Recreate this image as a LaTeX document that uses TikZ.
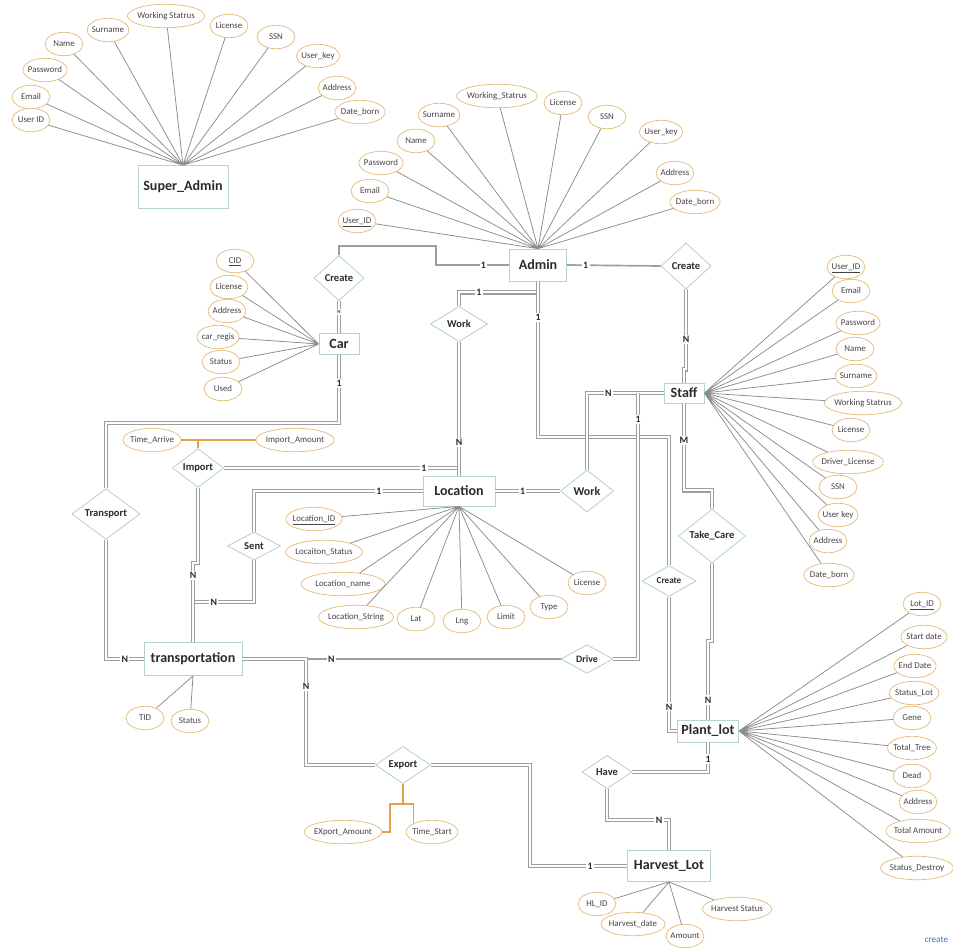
\documentclass[tikz,border=0pt]{standalone}
\usepackage{fontspec}
\setmainfont{Carlito}
\usetikzlibrary{shapes.geometric}

\definecolor{boxline}{HTML}{B7D2D2}
\definecolor{relline}{HTML}{A9CCCC}
\definecolor{attrline}{HTML}{E2BA78}
\definecolor{linkgray}{HTML}{9E9E9E}
\definecolor{raygray}{HTML}{8E8E8E}
\definecolor{attrorange}{HTML}{E3A24A}
\definecolor{txt}{HTML}{2B2B2B}
\definecolor{attrtxt}{HTML}{454545}
\definecolor{logoblue}{HTML}{3A78C2}

\begin{document}
\begin{tikzpicture}[
    x=0.025cm, y=-0.025cm,
    entity/.style={rectangle, draw=boxline, line width=0.5pt, fill=white, text=txt, inner sep=1pt, font=\fontsize{10}{12}\selectfont\bfseries},
    rel/.style={diamond, draw=relline, line width=0.5pt, fill=white, text=txt, inner sep=0pt, font=\fontsize{7.5}{9}\selectfont\bfseries},
    attr/.style={ellipse, draw=attrline, line width=0.5pt, fill=white, text=attrtxt, inner xsep=-1pt, inner ysep=3pt, minimum width=0.95cm, text height=4.5pt, text depth=1.3pt, font=\fontsize{6.3}{7}\selectfont},
    link/.style={draw=linkgray, line width=1pt, double=white, double distance=1.3pt},
    plain/.style={draw=linkgray, line width=1.2pt},
    ray/.style={draw=raygray, line width=0.55pt},
    attrlink/.style={draw=attrorange, line width=0.9pt},
    card/.style={fill=white, inner sep=1pt, text=txt, font=\fontsize{7}{8}\selectfont\bfseries}
]
\useasboundingbox (0,0) rectangle (953,949);

% Entidades
\node[entity, minimum width=2.25cm, minimum height=1.075cm] (sa) at (183,187) {Super\_Admin};
\node[entity, minimum width=1.43cm, minimum height=0.8cm] (admin) at (538,265) {Admin};
\node[entity, minimum width=1.0cm, minimum height=0.53cm] (car) at (339,344) {Car};
\node[entity, minimum width=1.0cm, minimum height=0.5cm] (staff) at (684,393) {Staff};
\node[entity, minimum width=1.8cm, minimum height=0.75cm] (loc) at (459,491) {Location};
\node[entity, minimum width=2.45cm, minimum height=0.83cm] (trans) at (193,659) {transportation};
\node[entity, minimum width=1.53cm, minimum height=0.55cm] (plant) at (708,731) {Plant\_lot};
\node[entity, minimum width=2.08cm, minimum height=0.78cm] (harv) at (669,866) {Harvest\_Lot};

% Relaciones
\node[rel, minimum width=1.25cm, minimum height=1.125cm] (create1) at (339,278) {Create};
\node[rel, minimum width=1.25cm, minimum height=1.15cm] (create2) at (686,266) {Create};
\node[rel, minimum width=1.43cm, minimum height=0.88cm] (work1) at (459,324) {Work};
\node[rel, minimum width=1.33cm, minimum height=1.05cm, font=\fontsize{8.5}{10}\selectfont\bfseries] (work2) at (587,491) {Work};
\node[rel, minimum width=1.28cm, minimum height=0.68cm] (import) at (198,468) {Import};
\node[rel, minimum width=1.33cm, minimum height=0.7cm] (sent) at (254,546) {Sent};
\node[rel, minimum width=1.7cm, minimum height=0.95cm] (transport) at (106,514) {Transport};
\node[rel, minimum width=1.68cm, minimum height=1.3cm] (takecare) at (712,536) {Take\_Care};
\node[rel, minimum width=1.35cm, minimum height=0.55cm, font=\fontsize{6.5}{8}\selectfont\bfseries] (create3) at (669,581) {Create};
\node[rel, minimum width=1.3cm, minimum height=0.6cm, font=\fontsize{7}{8}\selectfont\bfseries] (drive) at (587,659) {Drive};
\node[rel, minimum width=1.38cm, minimum height=0.8cm] (export) at (403,765) {Export};
\node[rel, minimum width=1.25cm, minimum height=0.83cm] (have) at (607,772) {Have};

\coordinate (sentj) at (193,602);
\coordinate (drivej) at (638,393);
\coordinate (exj) at (306,659);

% Atributos Super_Admin
\node[attr] (sa1) at (31,120) {User ID};
\node[attr] (sa2) at (31,97) {Email};
\node[attr] (sa3) at (45,70) {Password};
\node[attr] (sa4) at (64,44) {Name};
\node[attr] (sa5) at (108,30) {Surname};
\node[attr] (sa6) at (166,16) {Working Statrus};
\node[attr] (sa7) at (229,26) {License};
\node[attr] (sa8) at (276,37) {SSN};
\node[attr] (sa9) at (318,56) {User\_key};
\node[attr] (sa10) at (337,88) {Address};
\node[attr] (sa11) at (360,112) {Date\_born};

% Atributos Admin
\node[attr] (ad1) at (357,221) {\underline{User\_ID}};
\node[attr] (ad2) at (370,191) {Email};
\node[attr] (ad3) at (381,163) {Password};
\node[attr] (ad4) at (416,141) {Name};
\node[attr] (ad5) at (439,115) {Surname};
\node[attr] (ad6) at (497,96) {Working\_Statrus};
\node[attr] (ad7) at (563,103) {License};
\node[attr] (ad8) at (607,117) {SSN};
\node[attr] (ad9) at (661,132) {User\_key};
\node[attr] (ad10) at (675,173) {Address};
\node[attr] (ad11) at (695,202) {Date\_born};

% Atributos Car
\node[attr] (ca1) at (235,261) {\underline{CID}};
\node[attr] (ca2) at (229,287) {License};
\node[attr] (ca3) at (227,311) {Address};
\node[attr] (ca4) at (218,337) {car\_regis};
\node[attr] (ca5) at (221,362) {Status};
\node[attr] (ca6) at (223,389) {Used};

% Atributos Staff
\node[attr] (st1) at (846,267) {\underline{User\_ID}};
\node[attr] (st2) at (851,291) {Email};
\node[attr] (st3) at (858,323) {Password};
\node[attr] (st4) at (855,349) {Name};
\node[attr] (st5) at (856,376) {Surname};
\node[attr] (st6) at (863,403) {Working Statrus};
\node[attr] (st7) at (851,430) {License};
\node[attr] (st8) at (848,462) {Driver\_License};
\node[attr] (st9) at (838,487) {SSN};
\node[attr] (st10) at (838,515) {User key};
\node[attr] (st11) at (828,541) {Address};
\node[attr] (st12) at (829,575) {Date\_born};

% Atributos Location
\node[attr] (lo1) at (314,519) {\underline{Location\_ID}};
\node[attr] (lo2) at (324,552) {Locaiton\_Status};
\node[attr, minimum width=2.1cm] (lo3) at (343,584) {Location\_name};
\node[attr] (lo4) at (356,617) {Location\_String};
\node[attr] (lo5) at (416,619) {Lat};
\node[attr] (lo6) at (462,621) {Lng};
\node[attr] (lo7) at (506,617) {Limit};
\node[attr] (lo8) at (549,607) {Type};
\node[attr] (lo9) at (587,583) {License};

% Atributos Import / transportation / Export
\node[attr] (im1) at (152,440) {Time\_Arrive};
\node[attr] (im2) at (295,440) {Import\_Amount};
\node[attr] (tr1) at (145,718) {TID};
\node[attr] (tr2) at (190,721) {Status};
\node[attr] (ex1) at (343,832) {EXport\_Amount};
\node[attr] (ex2) at (432,832) {Time\_Start};

% Atributos Plant_lot
\node[attr] (pl1) at (922,604) {\underline{Lot\_ID}};
\node[attr] (pl2) at (924,637) {Start date};
\node[attr] (pl3) at (915,666) {End Date};
\node[attr] (pl4) at (914,693) {Status\_Lot};
\node[attr] (pl5) at (912,718) {Gene};
\node[attr] (pl6) at (912,748) {Total\_Tree};
\node[attr] (pl7) at (912,776) {Dead};
\node[attr] (pl8) at (918,802) {Address};
\node[attr] (pl9) at (918,831) {Total Amount};
\node[attr] (pl10) at (917,868) {Status\_Destroy};

% Atributos Harvest_Lot
\node[attr] (hv1) at (597,904) {HL\_ID};
\node[attr] (hv2) at (633,924) {Harvest\_date};
\node[attr] (hv3) at (685,936) {Amount};
\node[attr] (hv4) at (737,909) {Harvest Status};

\node[text=logoblue, font=\fontsize{6.5}{7}\selectfont, anchor=east] (logo) at (953,940) {create};

% Lineas de atributos
\draw[ray] (sa.north) -- (sa1) (sa.north) -- (sa2) (sa.north) -- (sa3) (sa.north) -- (sa4)
    (sa.north) -- (sa5) (sa.north) -- (sa6) (sa.north) -- (sa7) (sa.north) -- (sa8)
    (sa.north) -- (sa9) (sa.north) -- (sa10) (sa.north) -- (sa11);
\draw[ray] (admin.north) -- (ad1) (admin.north) -- (ad2) (admin.north) -- (ad3) (admin.north) -- (ad4)
    (admin.north) -- (ad5) (admin.north) -- (ad6) (admin.north) -- (ad7) (admin.north) -- (ad8)
    (admin.north) -- (ad9) (admin.north) -- (ad10) (admin.north) -- (ad11);
\draw[ray] (car.west) -- (ca1) (car.west) -- (ca2) (car.west) -- (ca3)
    (car.west) -- (ca4) (car.west) -- (ca5) (car.west) -- (ca6);
\draw[ray] (staff.east) -- (st1) (staff.east) -- (st2) (staff.east) -- (st3) (staff.east) -- (st4)
    (staff.east) -- (st5) (staff.east) -- (st6) (staff.east) -- (st7) (staff.east) -- (st8)
    (staff.east) -- (st9) (staff.east) -- (st10) (staff.east) -- (st11) (staff.east) -- (st12);
\draw[ray] (loc.south) -- (lo1) (loc.south) -- (lo2) (loc.south) -- (lo3) (loc.south) -- (lo4)
    (loc.south) -- (lo5) (loc.south) -- (lo6) (loc.south) -- (lo7) (loc.south) -- (lo8) (loc.south) -- (lo9);
\draw[ray] (trans.south) -- (tr1) (trans.south) -- (tr2);
\draw[ray] (plant.east) -- (pl1) (plant.east) -- (pl2) (plant.east) -- (pl3) (plant.east) -- (pl4)
    (plant.east) -- (pl5) (plant.east) -- (pl6) (plant.east) -- (pl7) (plant.east) -- (pl8)
    (plant.east) -- (pl9) (plant.east) -- (pl10);
\draw[ray] (harv.south) -- (hv1) (harv.south) -- (hv2) (harv.south) -- (hv3) (harv.south) -- (hv4);

% Atributos de relaciones
\draw[attrlink] (im1.east) -- (im2.west);
\draw[attrlink] (import.north) -- (import.north |- im1.east);
\draw[attrlink] (export.south) -- ++(0,20) -- ++(-13,0) |- (ex1.east);
\draw[attrlink] (export.south) -- ++(0,20) -| (ex2.north west);

% Conexiones
\draw[plain] (admin.west) -- node[card, pos=0.35]{1} (436,265) -- (436,246) -- (339,246) -- (create1.north);
\draw[link] (create1.south) -- node[card, pos=0.35, font=\fontsize{3.5}{4}\selectfont\bfseries]{N} (car.north);
\draw[link] (car.south) -- node[card, pos=0.42]{1} (339,423) -| (transport.north);
\draw[link] (transport.south) |- node[card, pos=0.75]{N} (trans.west);

\draw[link] (admin.south) -- ++(0,11) -- node[card, pos=0.75]{1} ++(-79,0) -- (work1.north);
\draw[link] (admin.south) -- node[card, pos=0.23]{1} (538,437) -| (create3.north);
\draw[link] (create3.south) |- node[card, pos=0.41]{N} (plant.west);

\draw[link] (import.east) -- node[card, pos=0.85]{1} (work1.south |- import.east);
\draw[link] (work1.south) -- node[card, pos=0.75]{N} (loc.north);

\draw[link] (sent.south) |- node[card, pos=0.83]{N} (sentj);
\draw[link] (import.south) -- (198,563) -- (193,563) -- node[card, pos=0.16]{N} (trans.north);
\draw[link] (sent.north) |- node[card, pos=0.87]{1} (loc.west);

\draw[link] (loc.east) -- node[card, pos=0.42]{1} (work2.west);
\draw[link] (work2.north) |- node[card, pos=0.64]{N} (staff.west);
\draw[link] (drivej) |- node[card, pos=0.05]{1} (drive.east);

\draw[plain] (drive.west) -- node[card, pos=0.9]{N} (exj);
\draw[link] (trans.east) -- (exj) |- node[card, pos=0.13]{N} (export.west);
\draw[link] (export.east) -| (530,866) -- node[card, pos=0.62]{1} (harv.west);

\draw[plain] (admin.east) -- node[card, pos=0.2]{1} (create2.west);
\draw[link] (create2.south) -- node[card, pos=0.63]{N} ++(0,80) -| (staff.north);
\draw[link] (staff.south) -- node[card, pos=0.43]{M} ++(0,87) -| (takecare.north);
\draw[link] (takecare.south) -- ++(0,78) -| node[card, pos=0.875]{N} (plant.north);

\draw[link] (plant.south) |- node[card, pos=0.28]{1} (have.east);
\draw[link] (have.south) -- ++(0,31) -| node[card, pos=0.42]{N} (harv.north);

\end{tikzpicture}
\end{document}
